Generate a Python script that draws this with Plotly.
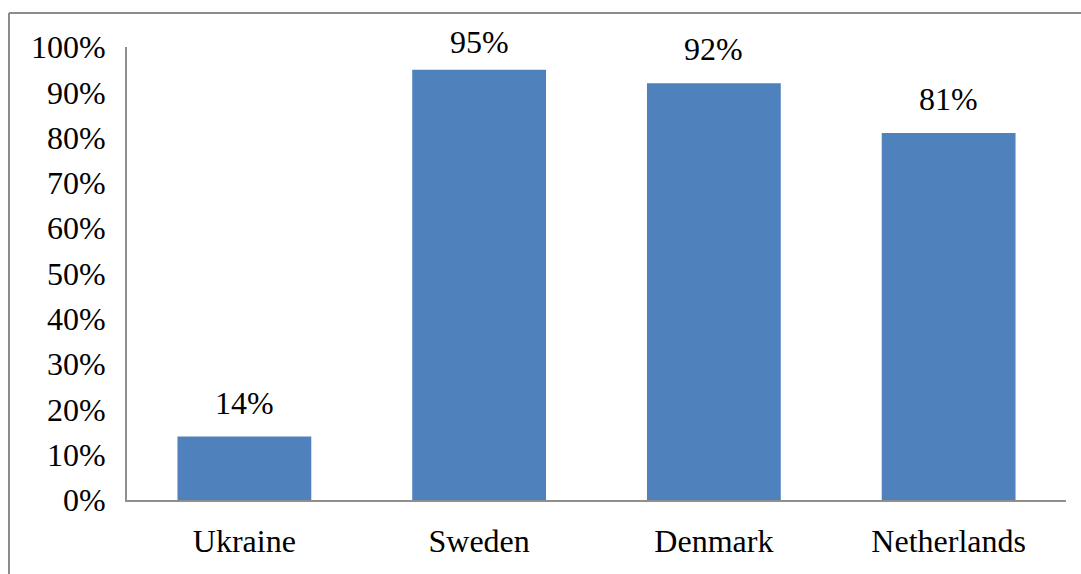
import plotly.graph_objects as go

categories = ["Ukraine", "Sweden", "Denmark", "Netherlands"]
values = [14, 95, 92, 81]
tick_vals = [0, 10, 20, 30, 40, 50, 60, 70, 80, 90, 100]
tick_text = [f"{v}%" for v in tick_vals]
labels = [f"{v}%" for v in values]

FONT = "Liberation Serif, Times New Roman, serif"
FS = 32

W, H = 1081, 574
L, R, T, B = 127, 15, 47, 74
pw, ph = W - L - R, H - T - B

fig = go.Figure()
fig.add_trace(go.Bar(x=categories, y=values, marker=dict(color="#4F81BD", line=dict(width=0)),
                     hoverinfo="skip"))

# labels sit above bars, but are kept inside the chart top (as Excel does)
BASE_SHIFT = 14
MIN_CENTER_PX = 42.5
for c, v, t in zip(categories, values, labels):
    bar_top = T + (100 - v) * ph / 100.0
    natural = bar_top - 33.75
    push = max(0.0, MIN_CENTER_PX - natural)
    fig.add_annotation(x=c, y=v, text=t, showarrow=False, yanchor="bottom",
                       yshift=BASE_SHIFT - push,
                       font=dict(family=FONT, size=FS, color="#000000"))

def px_x(x):
    return (x - L) / pw

def px_y(y):
    return (H - B - y) / ph

border = dict(color="#8c8c8c", width=2)
fig.add_shape(type="line", xref="paper", yref="paper",
              x0=px_x(9), x1=px_x(W), y0=px_y(13), y1=px_y(13), line=border, layer="below")
fig.add_shape(type="line", xref="paper", yref="paper",
              x0=px_x(9), x1=px_x(9), y0=px_y(13), y1=px_y(H), line=border, layer="below")

fig.update_layout(
    width=W, height=H,
    margin=dict(l=L, r=R, t=T, b=B, pad=0),
    paper_bgcolor="white", plot_bgcolor="white",
    bargap=0.43,
    showlegend=False,
    font=dict(family=FONT, size=FS, color="#000000"),
)
fig.update_xaxes(showgrid=False, showline=True, linecolor="#8f8f8f", linewidth=2,
                 ticks="", ticklabelstandoff=12, tickfont=dict(family=FONT, size=FS, color="#000000"))
fig.update_yaxes(range=[0, 100], tickvals=tick_vals, ticktext=tick_text, showgrid=False,
                 showline=True, linecolor="#8f8f8f", linewidth=2, ticks="", zeroline=False,
                 ticklabelstandoff=13, tickfont=dict(family=FONT, size=FS, color="#000000"))

fig.write_html("out.html")
